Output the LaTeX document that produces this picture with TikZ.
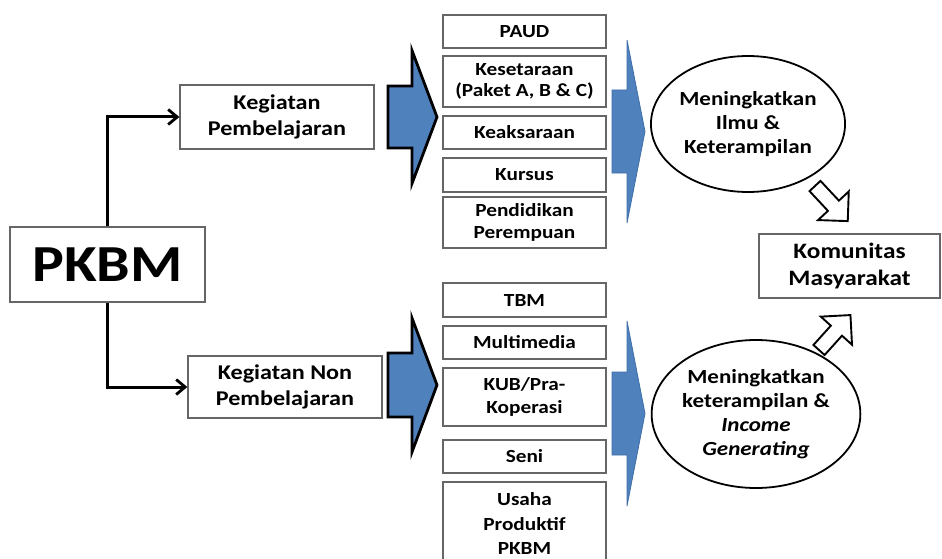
\documentclass[tikz,border=0pt]{standalone}
\usepackage{fontspec}
\setmainfont{Carlito}[FakeStretch=1.15]
\usetikzlibrary{arrows.meta,shapes.geometric}
\definecolor{blk}{HTML}{4F81BD}
\definecolor{blkedge}{HTML}{3E6FA8}
\tikzset{
  box/.style={draw=black!60, line width=1.3pt, fill=white, align=center, inner sep=0pt, font=\bfseries},
  fs21/.style={font=\fontsize{21}{26}\selectfont\bfseries},
  fs18/.style={font=\fontsize{18.5}{21.5}\selectfont\bfseries},
  fs20/.style={font=\fontsize{20}{24}\selectfont\bfseries},
  fs22/.style={font=\fontsize{22}{26.7}\selectfont\bfseries},
  oval/.style={ellipse, draw=black, line width=1.8pt, align=center, inner sep=0pt},
  conn/.style={draw=black, line width=3pt, -{Straight Barb[length=9pt,width=15pt,line width=2.8pt]}},
  bigblue/.style={fill=blk, draw=black, line width=2.8pt, line join=miter},
  lightblue/.style={fill=blk, draw=blkedge, line width=0.8pt},
  hollow/.style={fill=white, draw=black, line width=1.9pt, line join=miter}
}
% \barrow{tail}{angle}{length}{shaft width}{head width}{head length}{style}
\newcommand{\barrow}[7]{%
  \begin{scope}[shift={#1}, rotate=#2]
    \draw[#7] (0,-#4/2) -- ({#3-#6},-#4/2) -- ({#3-#6},-#5/2) -- (#3,0)
      -- ({#3-#6},#5/2) -- ({#3-#6},#4/2) -- (0,#4/2) -- cycle;
  \end{scope}}
\begin{document}
\begin{tikzpicture}[x=1pt, y=-1pt]
\useasboundingbox (0,0) rectangle (942,559);

% left boxes
\node[box, minimum width=195, minimum height=75,
      font=\fontsize{52}{60}\selectfont\bfseries] (pkbm) at (107.5,264.5) {PKBM};
\node[box, fs21, minimum width=194, minimum height=64] (kp) at (277,117) {Kegiatan\\Pembelajaran};
\node[box, fs21, minimum width=194, minimum height=62] (knp) at (285,387) {Kegiatan Non\\Pembelajaran};

\draw[conn] (pkbm.north) |- (kp.west);
\draw[conn] (pkbm.south) |- (knp.west);

% big block arrows
\barrow{(388,117)}{0}{49}{62}{133}{25}{bigblue}
\barrow{(388,385)}{0}{49}{64}{134}{25}{bigblue}

% column boxes (top)
\node[box, fs18, minimum width=163, minimum height=33] (paud) at (524.5,31.5) {PAUD};
\node[box, fs18, minimum width=163, minimum height=51] (kes) at (524.5,81.5) {Kesetaraan\\(Paket A, B \& C)};
\node[box, fs18, minimum width=163, minimum height=33] (kea) at (524.5,132.5) {Keaksaraan};
\node[box, fs18, minimum width=163, minimum height=34] (kur) at (524.5,175) {Kursus};
\node[box, fs18, minimum width=163, minimum height=51] (pen) at (524.5,222.5) {Pendidikan\\Perempuan};

% column boxes (bottom)
\node[box, fs18, minimum width=163, minimum height=34] (tbm) at (524.5,300) {TBM};
\node[box, fs18, minimum width=163, minimum height=33] (mul) at (524.5,342.5) {Multimedia};
\node[box, font=\fontsize{18.5}{23}\selectfont\bfseries, minimum width=163, minimum height=58] (kub) at (524.5,397) {KUB/Pra-\\Koperasi};
\node[box, fs18, minimum width=163, minimum height=33] (sen) at (524.5,456.5) {Seni};
\node[box, font=\fontsize{18.5}{24.5}\selectfont\bfseries, minimum width=163, minimum height=84] (usa) at (524.5,524) {Usaha\\Produktif\\PKBM};

% light block arrows
\barrow{(612,131.5)}{0}{33}{83}{183}{18}{lightblue}
\barrow{(612,413.5)}{0}{33}{83}{185}{18}{lightblue}

% ellipses
\node[oval, fs20, minimum width=194, minimum height=136] (e1) at (748,124) {Meningkatkan\\Ilmu \&\\Keterampilan};
\node[oval, fs20, minimum width=208, minimum height=148] (e2) at (756,414) {Meningkatkan\\keterampilan \&\\\textit{Income}\\\textit{Generating}};

\node[box, fs22, minimum width=181, minimum height=64] (kom) at (849.5,266) {Komunitas\\Masyarakat};

% hollow arrows
\barrow{(815,186)}{-47}{48}{15}{42}{21}{hollow}
\barrow{(819,350)}{48}{47}{15}{42}{21}{hollow}
\end{tikzpicture}
\end{document}
